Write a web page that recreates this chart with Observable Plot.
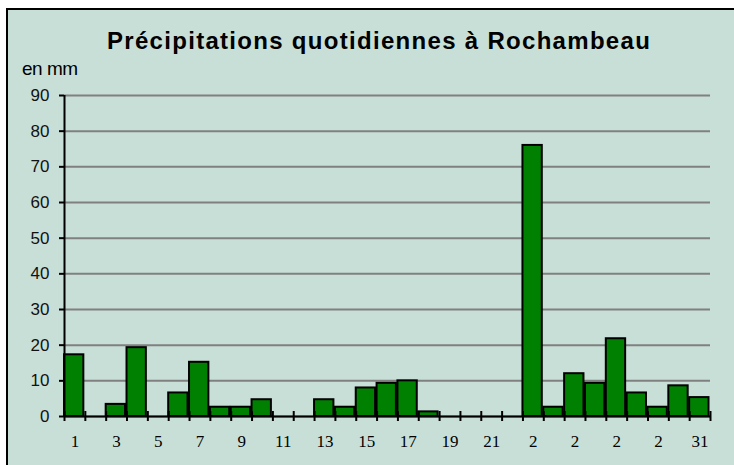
<!DOCTYPE html>
<html>
<head>
<meta charset="utf-8">
<script src="https://cdn.jsdelivr.net/npm/d3@7"></script>
<script src="https://cdn.jsdelivr.net/npm/@observablehq/plot@0.6"></script>
<style>
  body { margin: 0; background: #fff; }
  #wrap { position: relative; width: 734px; height: 465px; overflow: hidden; background: #fff; }
  #bg { position: absolute; left: 6px; top: 8px; width: 760px; height: 480px; background: #c8dfd7; border-top: 2px solid #000; border-left: 2px solid #000; }
  #title { position: absolute; left: 107px; top: 29px; font: bold 24px/24px "Liberation Sans", Arial, sans-serif; letter-spacing: 1.3px; color: #000; white-space: nowrap; }
  #unit { position: absolute; left: 22px; top: 59px; font: 19px/19px "Liberation Sans", Arial, sans-serif; letter-spacing: -0.5px; color: #000; white-space: nowrap; }
  #chart { position: absolute; left: 0; top: 0; }
</style>
</head>
<body>
<div id="wrap">
  <div id="bg"></div>
  <div id="title">Précipitations quotidiennes à Rochambeau</div>
  <div id="unit">en mm</div>
  <div id="chart"></div>
</div>
<script>
// Daily precipitation (mm), days 1..31
const days = d3.range(1, 32);
const rain = [17.3, 0, 3.4, 19.3, 0, 6.6, 15.2, 2.6, 2.6, 4.7,
              0, 0, 4.7, 2.6, 8.0, 9.3, 10.0, 1.3, 0, 0,
              0, 0, 76.0, 2.6, 12.0, 9.3, 21.8, 6.6, 2.6, 8.6, 5.3];
const yTicks = [0, 10, 20, 30, 40, 50, 60, 70, 80, 90];
const xLabelDays = [1, 3, 5, 7, 9, 11, 13, 15, 17, 19, 21, 23, 25, 27, 29, 31];
const xLabels = ["1", "3", "5", "7", "9", "11", "13", "15", "17", "19", "21", "2", "2", "2", "2", "31"];

const data = days.map((d, i) => ({day: d, value: rain[i]})).filter(d => d.value > 0);
const bounds = d3.range(0.5, 32, 1);
const labelData = xLabelDays.map((d, i) => ({day: d, label: xLabels[i]}));

const chart = Plot.plot({
  width: 734,
  height: 465,
  marginLeft: 64,
  marginRight: 24,
  marginTop: 95,
  marginBottom: 49,
  style: {background: "transparent", color: "#000"},
  x: {domain: [0.5, 31.5], axis: null},
  y: {domain: [0, 90], axis: null},
  marks: [
    Plot.gridY(yTicks, {stroke: "#808080", strokeOpacity: 1, strokeWidth: 2}),
    Plot.rectY(data, {x1: d => d.day - 0.5, x2: d => d.day + 0.5, y: "value", fill: "#008000", stroke: "#000", strokeWidth: 2, insetRight: 1.5}),
    Plot.ruleY([0], {stroke: "#000", strokeWidth: 2}),
    Plot.ruleX([0.5], {y1: 0, y2: 90, stroke: "#000", strokeWidth: 2}),
    Plot.ruleX(bounds, {y1: 0, y2: 0, insetTop: -5, insetBottom: -5, stroke: "#000", strokeWidth: 2}),
    Plot.axisY(yTicks, {label: null, tickSize: 5, tickPadding: 10, fontSize: 17, fontFamily: "Liberation Sans, Arial, sans-serif", strokeWidth: 2, fill: "#111"}),
    Plot.text(labelData, {x: "day", y: 0, text: "label", dy: 25, fontSize: 17, fontFamily: "Liberation Serif, Times New Roman, serif", fill: "#000"})
  ]
});
document.getElementById("chart").appendChild(chart);
</script>
</body>
</html>
